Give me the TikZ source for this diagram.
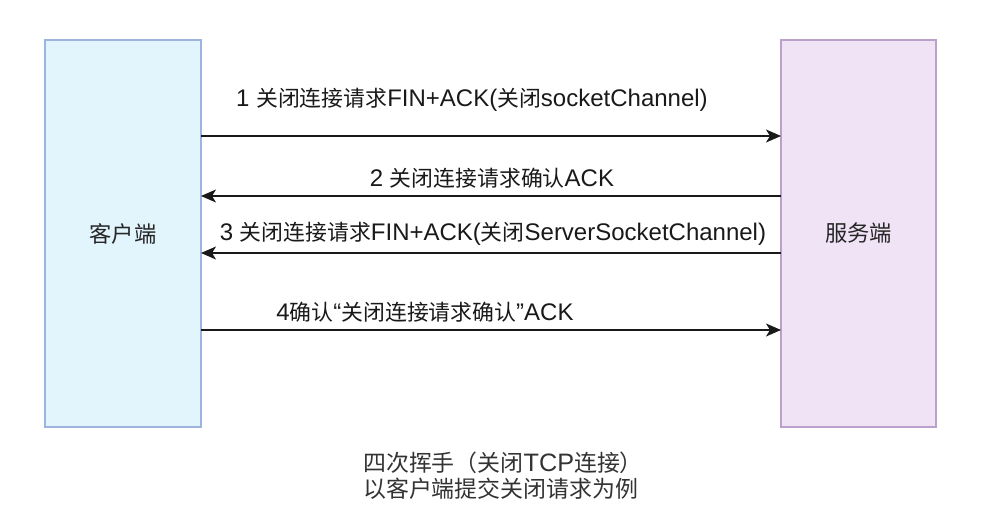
\documentclass[tikz,border=0pt]{standalone}
\usepackage{fontspec}
\setmainfont{Liberation Sans}
\newfontfamily\cjk[Scale=0.91]{Noto Sans CJK SC}
\usepackage{xcolor}
\usepackage{tikz}
\usetikzlibrary{arrows.meta,positioning}
\definecolor{clifill}{HTML}{E2F5FD}
\definecolor{clidraw}{HTML}{9DB4DF}
\definecolor{srvfill}{HTML}{F0E3F6}
\definecolor{srvdraw}{HTML}{BBA0CC}
\tikzstyle{peer}=[rectangle, line width=1.6pt, minimum width=156pt, minimum height=387pt,
  font=\fontsize{24.5}{28}\selectfont, text=black!85, inner sep=0pt, outer sep=0pt]
\tikzstyle{msg}=[font=\fontsize{24}{28}\selectfont, inner sep=0pt, text=black!90]
\tikzstyle{caption}=[font=\fontsize{25.2}{26}\selectfont, align=left, inner sep=0pt, text=black!80]
\tikzstyle{arrow}=[-{Stealth[length=15pt, width=13pt, inset=4pt]}, line width=1.5pt, black!90]
\newcommand{\zh}[1]{{\cjk #1}}

\begin{document}
\begin{tikzpicture}[x=1pt, y=1pt, node distance=580pt]
\useasboundingbox (0,0) rectangle (989,-522);
\node (client) [peer, fill=clifill, draw=clidraw] at (123,-233.5) {\zh{客户端}};
\node (server) [peer, fill=srvfill, draw=srvdraw, minimum width=155pt, right=of client] {\zh{服务端}};
\node (cap) [caption, anchor=north west] at (363,-452) {\zh{四次挥手（关闭}TCP\zh{连接）}\\ \zh{以客户端提交关闭请求为例}};

\draw[arrow] ([yshift=97.5pt]client.east) -- node[msg, midway, yshift=36pt, xshift=-19pt] {1 \zh{关闭连接请求}FIN+ACK(\zh{关闭}socketChannel)} ([yshift=97.5pt]server.west);
\draw[arrow] ([yshift=37.5pt]server.west) -- node[msg, midway, yshift=18pt, xshift=1pt] {2 \zh{关闭连接请求确认}ACK} ([yshift=37.5pt]client.east);
\draw[arrow] ([yshift=-19.5pt]server.west) -- node[msg, midway, yshift=19pt, xshift=2pt] {3 \zh{关闭连接请求}FIN+ACK(\zh{关闭}ServerSocketChannel)} ([yshift=-19.5pt]client.east);
\draw[arrow] ([yshift=-96.5pt]client.east) -- node[msg, midway, yshift=18pt, xshift=-66pt] {4\zh{确认}“\zh{关闭连接请求确认}”ACK} ([yshift=-96.5pt]server.west);
\end{tikzpicture}
\end{document}
